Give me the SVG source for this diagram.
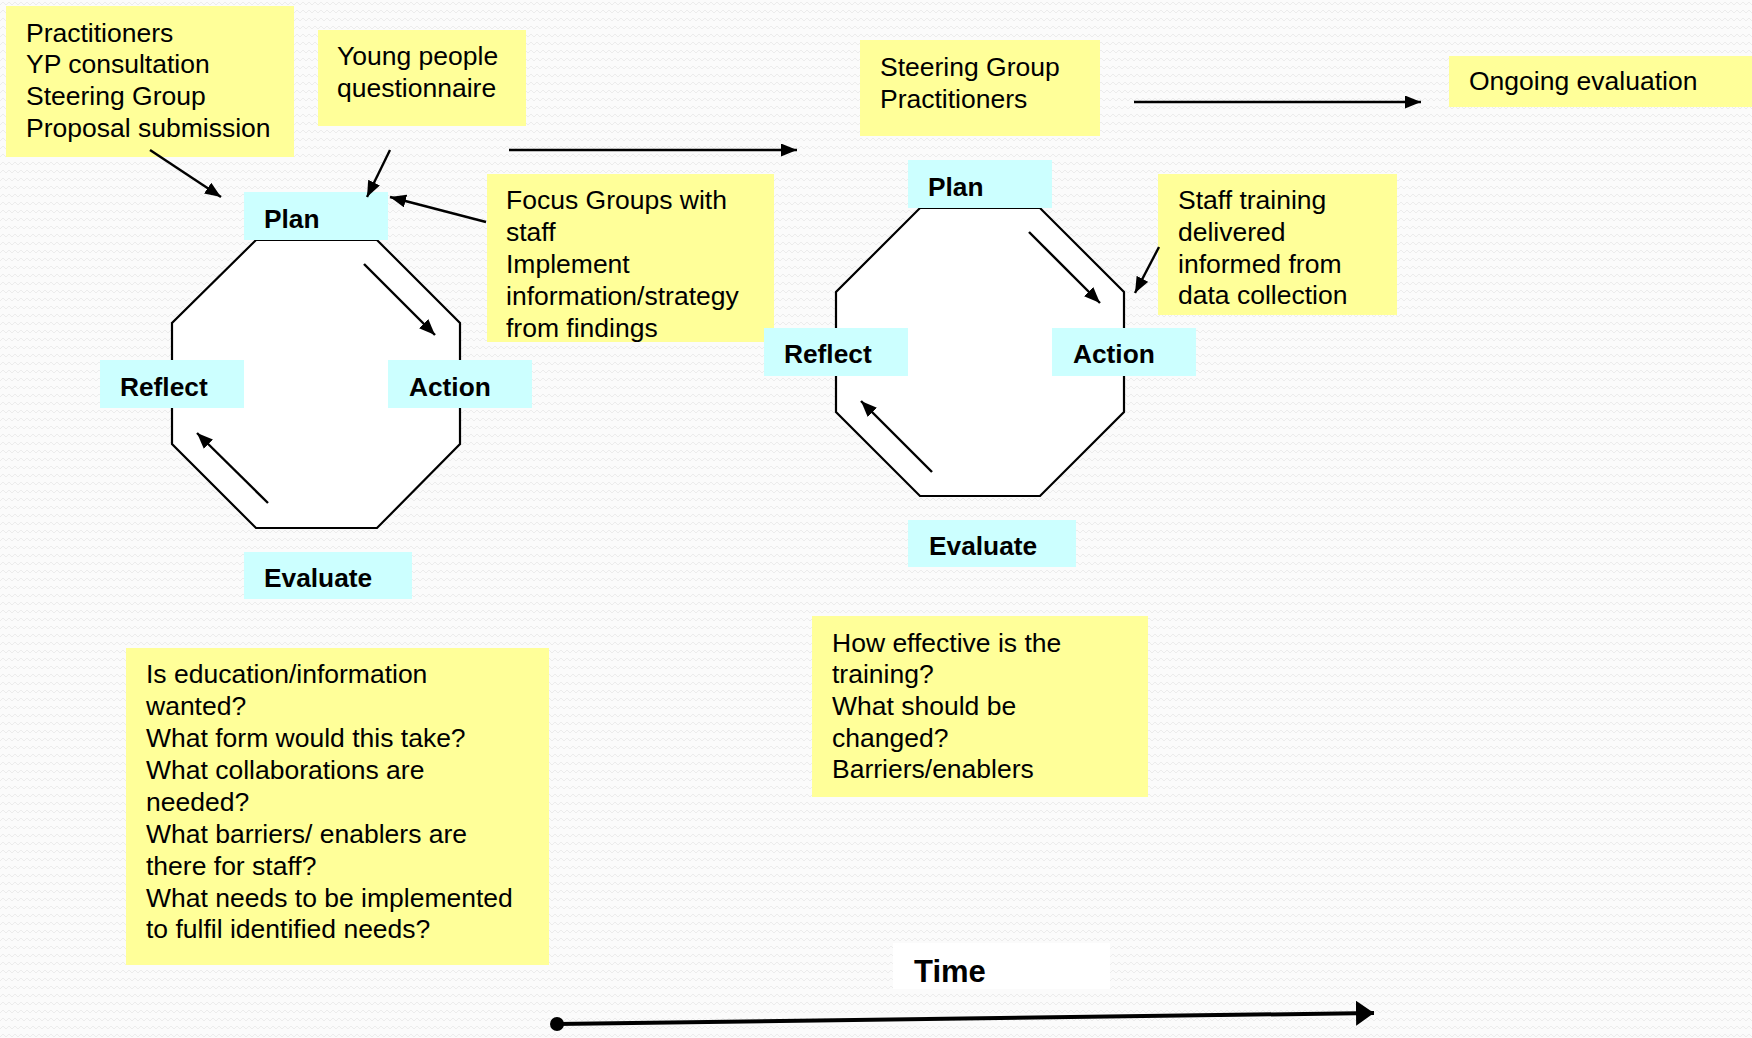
<svg xmlns="http://www.w3.org/2000/svg" width="1752" height="1038" viewBox="0 0 1752 1038">
<style>
.note{fill:#ffff99}
.lab{fill:#ccffff}
.oct{fill:#ffffff;stroke:#000;stroke-width:2.2}
.t{font-family:"Liberation Sans",Arial,sans-serif;font-size:26.5px;fill:#000}
.b{font-family:"Liberation Sans",Arial,sans-serif;font-size:26.3px;font-weight:bold;fill:#000}
.c{stroke:#000;stroke-width:2.4;fill:none;marker-end:url(#ah)}
</style>
<defs>
<pattern id="bg" width="12" height="8" patternUnits="userSpaceOnUse">
<rect width="12" height="8" fill="#fbfbfb"/>
<path d="M0,5 L3,2 L6,5 L9,2 L12,5" stroke="#ececec" stroke-width="1" fill="none"/>
</pattern>
<marker id="ah" markerUnits="userSpaceOnUse" markerWidth="17" markerHeight="14" refX="16" refY="6.5" orient="auto">
<path d="M0,0 L16,6.5 L0,13 z" fill="#000"/>
</marker>
<marker id="ahBig" markerUnits="userSpaceOnUse" markerWidth="19" markerHeight="26" refX="18" refY="12.5" orient="auto">
<path d="M0,0 L18,12.5 L0,25 z" fill="#000"/>
</marker>
</defs>
<rect width="1752" height="1038" fill="url(#bg)"/>

<g id="cycle1">
<polygon class="oct" points="256,240 377,240 460,323 460,444 377,528 256,528 172,444 172,323"/>
</g>
<g id="cycle2">
<polygon class="oct" points="920,208 1040,208 1124,292 1124,412 1040,496 920,496 836,412 836,292"/>
</g>

<g id="inputs1">
<rect class="note" x="6" y="6" width="288" height="151"/>
<text class="t" x="26" y="42">Practitioners</text>
<text class="t" x="26" y="73">YP consultation</text>
<text class="t" x="26" y="105">Steering Group</text>
<text class="t" x="26" y="137">Proposal submission</text>
</g>
<g id="questionnaire">
<rect class="note" x="318" y="30" width="208" height="96"/>
<text class="t" x="337" y="65">Young people</text>
<text class="t" x="337" y="97">questionnaire</text>
</g>
<g id="focus">
<rect class="note" x="487" y="174" width="287" height="168"/>
<text class="t" x="506" y="209">Focus Groups with</text>
<text class="t" x="506" y="241">staff</text>
<text class="t" x="506" y="273">Implement</text>
<text class="t" x="506" y="305">information/strategy</text>
<text class="t" x="506" y="337">from findings</text>
</g>
<g id="steering">
<rect class="note" x="860" y="40" width="240" height="96"/>
<text class="t" x="880" y="76">Steering Group</text>
<text class="t" x="880" y="108">Practitioners</text>
</g>
<g id="ongoing">
<rect class="note" x="1449" y="56" width="303" height="51"/>
<text class="t" x="1469" y="90">Ongoing evaluation</text>
</g>
<g id="training">
<rect class="note" x="1158" y="174" width="239" height="141"/>
<text class="t" x="1178" y="209">Staff training</text>
<text class="t" x="1178" y="241">delivered</text>
<text class="t" x="1178" y="273">informed from</text>
<text class="t" x="1178" y="304">data collection</text>
</g>
<g id="questions1">
<rect class="note" x="126" y="648" width="423" height="317"/>
<text class="t" x="146" y="683">Is education/information</text>
<text class="t" x="146" y="715">wanted?</text>
<text class="t" x="146" y="747">What form would this take?</text>
<text class="t" x="146" y="779">What collaborations are</text>
<text class="t" x="146" y="811">needed?</text>
<text class="t" x="146" y="843">What barriers/ enablers are</text>
<text class="t" x="146" y="875">there for staff?</text>
<text class="t" x="146" y="907">What needs to be implemented</text>
<text class="t" x="146" y="938">to fulfil identified needs?</text>
</g>
<g id="questions2">
<rect class="note" x="812" y="616" width="336" height="181"/>
<text class="t" x="832" y="652">How effective is the</text>
<text class="t" x="832" y="683">training?</text>
<text class="t" x="832" y="715">What should be</text>
<text class="t" x="832" y="747">changed?</text>
<text class="t" x="832" y="778">Barriers/enablers</text>
</g>

<g id="plan1"><rect class="lab" x="244" y="192" width="144" height="48"/><text class="b" x="264" y="228">Plan</text></g>
<g id="reflect1"><rect class="lab" x="100" y="360" width="144" height="48"/><text class="b" x="120" y="396">Reflect</text></g>
<g id="action1"><rect class="lab" x="388" y="360" width="144" height="48"/><text class="b" x="409" y="396">Action</text></g>
<g id="evaluate1"><rect class="lab" x="244" y="552" width="168" height="47"/><text class="b" x="264" y="587">Evaluate</text></g>
<g id="plan2"><rect class="lab" x="908" y="160" width="144" height="48"/><text class="b" x="928" y="196">Plan</text></g>
<g id="reflect2"><rect class="lab" x="764" y="328" width="144" height="48"/><text class="b" x="784" y="363">Reflect</text></g>
<g id="action2"><rect class="lab" x="1052" y="328" width="144" height="48"/><text class="b" x="1073" y="363">Action</text></g>
<g id="evaluate2"><rect class="lab" x="908" y="520" width="168" height="47"/><text class="b" x="929" y="555">Evaluate</text></g>
<g id="time"><rect x="893" y="943" width="217" height="46" fill="#ffffff"/><text class="b" x="914" y="982" style="font-size:31px">Time</text></g>

<g id="connectors">
<line class="c" x1="150" y1="150" x2="221" y2="197"/>
<line class="c" x1="390" y1="150" x2="367" y2="197"/>
<line class="c" x1="486" y1="222" x2="390" y2="197"/>
<line class="c" x1="364" y1="264" x2="435" y2="335"/>
<line class="c" x1="268" y1="503" x2="197" y2="433"/>
<line class="c" x1="509" y1="150" x2="797" y2="150"/>
<line class="c" x1="1134" y1="102" x2="1421" y2="102"/>
<line class="c" x1="1029" y1="232" x2="1100" y2="303"/>
<line class="c" x1="1159" y1="247" x2="1135" y2="293"/>
<line class="c" x1="932" y1="472" x2="861" y2="401"/>
<circle cx="557" cy="1024" r="7" fill="#000"/>
<line x1="557" y1="1024" x2="1374" y2="1013" stroke="#000" stroke-width="4" marker-end="url(#ahBig)"/>
</g>
</svg>
